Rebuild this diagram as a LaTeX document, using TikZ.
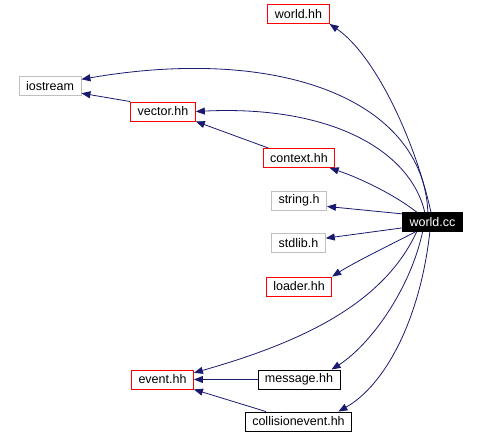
\documentclass[tikz,border=0pt]{standalone}
\usepackage{fontspec}
\setmainfont{Liberation Sans}
\usetikzlibrary{arrows.meta}
\definecolor{edgeblue}{HTML}{191970}
\definecolor{sysgray}{HTML}{BFBFBF}

\begin{document}
\begin{tikzpicture}[
  x=1pt, y=-1pt,
  font=\fontsize{12.5}{14}\selectfont,
  file/.style={draw, inner xsep=7pt, inner ysep=0pt, minimum height=19pt,
    line width=0.9pt},
  docfile/.style={file, draw=red},
  sysfile/.style={file, draw=sysgray},
  plainfile/.style={file, draw=black},
  selffile/.style={file, draw=black, fill=black, text=white},
  dep/.style={-{Triangle[length=9pt,width=7pt]}, edgeblue, line width=0.8pt}
]
\useasboundingbox (0,0) rectangle (478,438);
\node[docfile] (whh) at (298.5,14) {world.hh};
\node[sysfile] (io) at (50,86) {iostream};
\node[docfile] (vec) at (163,111.5) {vector.hh};
\node[docfile] (ctx) at (299,158) {context.hh};
\node[sysfile] (str) at (299,200.5) {string.h};
\node[selffile] (wcc) at (432.5,222) {world.cc};
\node[sysfile] (stl) at (298.5,243) {stdlib.h};
\node[docfile] (ldr) at (299,286.5) {loader.hh};
\node[docfile] (evt) at (162.5,379.5) {event.hh};
\node[plainfile] (msg) at (299,379.5) {message.hh};
\node[plainfile] (col) at (298.5,421.5) {collisionevent.hh};
\draw[dep] (wcc.99) .. controls (415,140) and (375,55) .. (whh.south east);
\draw[dep] (wcc.115) .. controls (423,100) and (280,45) .. (io.12);
\draw[dep] (wcc.128) .. controls (410,150) and (330,105) .. (vec.east);
\draw[dep] (vec.north west) -- (io.347);
\draw[dep] (ctx.162) -- (vec.south east);
\draw[dep] (wcc.148) .. controls (395,195) and (360,178) .. (ctx.342);
\draw[dep] (wcc.165) -- (str.348);
\draw[dep] (wcc.191) -- (stl.10);
\draw[dep] (wcc.210) .. controls (390,245) and (355,262) .. (ldr.north east);
\draw[dep] (wcc.212) .. controls (385,300) and (310,340) .. (evt.12);
\draw[dep] (wcc.225) .. controls (410,290) and (370,345) .. (msg.17);
\draw[dep] (wcc.255) .. controls (420,320) and (385,385) .. (col.14);
\draw[dep] (msg.west) -- (evt.east);
\draw[dep] (col.163) -- (evt.south east);
\end{tikzpicture}
\end{document}
